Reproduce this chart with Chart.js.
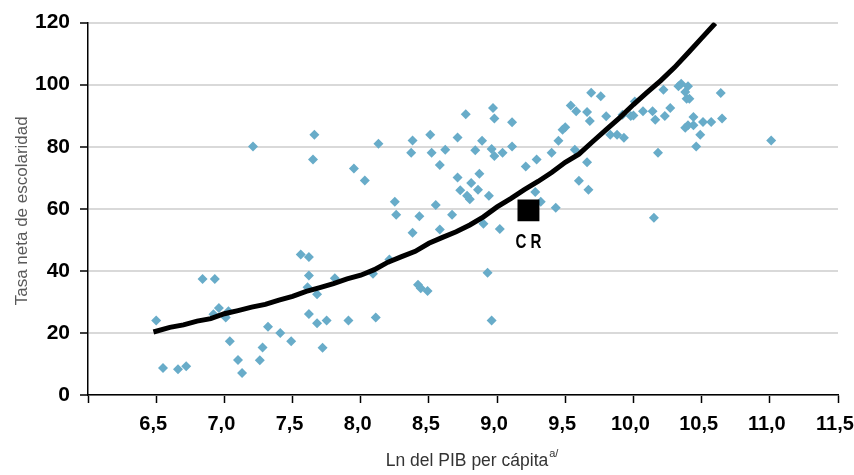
<!DOCTYPE html>
<html>
<head>
<meta charset="utf-8">
<script src="https://cdn.jsdelivr.net/npm/chart.js@4"></script>
<style>
  html, body { margin: 0; padding: 0; background: #fff; }
  #wrap { width: 854px; height: 475px; }
</style>
</head>
<body>
<div id="wrap"><canvas id="pibChart" width="854" height="475"></canvas></div>
<script>
// Ln del PIB per cápita vs tasa neta de escolaridad
const gdpLn = [
  6.50, 6.55, 6.66, 6.72, 6.84, 6.93, 6.96, 6.92, 7.03, 7.01,
  7.04, 7.10, 7.13, 7.32, 7.41, 7.28, 7.26, 7.49, 7.56, 7.62,
  7.62, 7.61, 7.68, 7.62, 7.68, 7.75, 7.72, 7.81, 7.91, 7.21,
  7.66, 7.65, 8.13, 8.38, 8.37, 7.95, 8.03, 8.25, 8.26, 8.43,
  8.38, 8.09, 8.21, 8.42, 8.44, 8.49, 8.11, 8.51, 8.52, 8.58,
  8.62, 8.77, 8.71, 8.89, 8.84, 8.97, 8.98, 9.11, 8.96, 8.98,
  9.04, 9.11, 8.71, 8.87, 8.81, 8.73, 8.86, 8.78, 8.80, 8.94,
  8.55, 8.67, 8.58, 8.90, 9.02, 9.21, 9.29, 9.28, 9.32, 9.43,
  9.40, 9.45, 9.48, 9.50, 9.54, 9.58, 9.66, 9.68, 9.57, 9.66,
  9.60, 9.67, 9.69, 9.76, 8.93, 8.96, 10.15, 9.80, 9.83, 9.88,
  9.93, 9.92, 9.98, 10.00, 10.01, 10.07, 10.14, 10.16, 10.23, 10.27,
  10.22, 10.18, 10.33, 10.35, 10.40, 10.38, 10.39, 10.41, 10.44, 10.38,
  10.40, 10.44, 10.49, 10.46, 10.51, 10.57, 10.65, 10.64, 11.01
];
const netRate = [
  24.0, 8.7, 8.3, 9.3, 37.4, 37.4, 28.0, 26.0, 27.0, 25.0,
  17.3, 11.3, 7.1, 22.0, 20.0, 15.3, 11.2, 17.3, 45.3, 44.5,
  38.5, 34.7, 32.5, 26.1, 23.1, 24.0, 15.2, 37.6, 24.0, 80.1,
  83.9, 75.9, 81.0, 82.0, 78.1, 73.0, 69.1, 62.3, 58.1, 57.6,
  52.3, 39.1, 43.7, 35.5, 34.4, 33.5, 25.0, 83.9, 78.1, 74.1,
  79.0, 90.5, 83.0, 81.9, 78.9, 92.5, 89.1, 87.9, 79.3, 77.0,
  78.1, 80.1, 70.1, 71.3, 68.3, 66.0, 66.1, 64.2, 63.1, 64.2,
  61.2, 58.1, 53.3, 55.2, 53.5, 73.6, 75.9, 65.4, 62.3, 60.3,
  78.1, 81.9, 85.5, 86.3, 93.3, 91.4, 91.2, 88.3, 79.0, 75.0,
  69.0, 66.1, 97.4, 96.3, 39.4, 24.0, 57.1, 89.8, 83.9, 83.9,
  82.9, 90.3, 89.9, 90.1, 94.6, 91.4, 91.4, 88.7, 89.9, 92.5,
  98.4, 78.1, 99.5, 100.3, 99.5, 97.6, 95.5, 95.5, 89.6, 86.1,
  86.9, 86.9, 83.9, 80.1, 88.0, 88.0, 89.1, 97.3, 82.0
];

// curva ajustada
const fitX = [
  6.48, 6.6, 6.7, 6.8, 6.9, 7.0, 7.1, 7.2, 7.3, 7.4,
  7.5, 7.6, 7.7, 7.8, 7.9, 8.0, 8.1, 8.2, 8.3, 8.4,
  8.5, 8.6, 8.7, 8.8, 8.9, 9.0, 9.1, 9.2, 9.3, 9.4,
  9.5, 9.6, 9.7, 9.8, 9.9, 10.0, 10.1, 10.2, 10.3, 10.4,
  10.5, 10.6
];
const fitY = [
  20.3, 21.8, 22.6, 23.8, 24.6, 26.2, 27.2, 28.3, 29.2, 30.6,
  31.8, 33.4, 34.6, 35.9, 37.4, 38.6, 40.4, 42.8, 44.6, 46.3,
  48.9, 50.8, 52.6, 54.8, 57.4, 60.6, 63.3, 66.2, 68.8, 71.7,
  75.0, 77.6, 81.6, 85.5, 89.4, 93.6, 97.5, 101.3, 105.5, 110.2,
  115.0, 119.8
];

// Costa Rica
const crX = [9.23];
const crY = [59.5];
const crLabel = "C R";

const xTicks = [6.0, 6.5, 7.0, 7.5, 8.0, 8.5, 9.0, 9.5, 10.0, 10.5, 11.0, 11.5];
const yTicks = [0, 20, 40, 60, 80, 100, 120];

const yTitle = "Tasa neta de escolaridad";
const xTitle = "Ln del PIB per cápita";
const xTitleSup = "a/";

const sans = '"Liberation Sans", Arial, sans-serif';

const textPlugin = {
  id: "axisText",
  afterDraw(chart) {
    const { ctx, scales } = chart;
    const x = scales.x, y = scales.y;

    ctx.save();
    ctx.fillStyle = "#595959";
    ctx.font = "17px " + sans;
    ctx.translate(22, (y.top + y.bottom) / 2 + 2);
    ctx.rotate(-Math.PI / 2);
    ctx.textAlign = "center";
    ctx.textBaseline = "middle";
    ctx.fillText(yTitle, 0, 0);
    ctx.restore();

    ctx.save();
    ctx.fillStyle = "#333";
    ctx.textBaseline = "alphabetic";
    ctx.textAlign = "left";
    ctx.font = "17.5px " + sans;
    const w1 = ctx.measureText(xTitle).width;
    const startX = (x.left + x.right) / 2 - w1 / 2 + 4;
    ctx.fillText(xTitle, startX, 466);
    ctx.font = "11px " + sans;
    ctx.fillText(xTitleSup, startX + w1 + 1, 457);
    ctx.restore();

    ctx.save();
    ctx.fillStyle = "#000";
    ctx.font = "bold 21px " + sans;
    ctx.textAlign = "center";
    ctx.textBaseline = "middle";
    ctx.translate(x.getPixelForValue(crX[0]), y.getPixelForValue(crY[0]) + 32);
    ctx.scale(0.72, 1);
    ctx.fillText(crLabel, 0, 0);
    ctx.restore();
  }
};

const scatterPoints = gdpLn.map((v, i) => ({ x: v, y: netRate[i] }));
const fitPoints = fitX.map((v, i) => ({ x: v, y: fitY[i] }));
const crPoints = crX.map((v, i) => ({ x: v, y: crY[i] }));

new Chart(document.getElementById("pibChart"), {
  type: "scatter",
  data: {
    datasets: [
      {
        label: "CR",
        data: crPoints,
        pointStyle: "rect",
        pointRadius: 15.5,
        backgroundColor: "#000",
        borderWidth: 0,
      },
      {
        label: "Ajuste",
        data: fitPoints,
        showLine: true,
        borderColor: "#000",
        borderWidth: 5,
        tension: 0,
        pointRadius: 0,
      },
      {
        label: "Países",
        data: scatterPoints,
        pointStyle: "rectRot",
        pointRadius: 5,
        backgroundColor: "#68acc9",
        borderWidth: 0,
      },
    ],
  },
  options: {
    responsive: false,
    animation: false,
    events: [],
    layout: { padding: { top: 20, right: 16, left: 0, bottom: 0 } },
    plugins: { legend: { display: false }, tooltip: { enabled: false } },
    scales: {
      x: {
        type: "linear",
        min: 6,
        max: 11.5,
        afterBuildTicks: (s) => { s.ticks = xTicks.map((v) => ({ value: v })); },
        afterFit: (s) => { s.height = 80; s.paddingLeft = 0; s.paddingRight = 0; },
        grid: { drawOnChartArea: false, drawTicks: true, tickLength: 8, tickColor: "#000", tickWidth: 1.5 },
        border: { color: "#000", width: 1.5 },
        ticks: {
          padding: 9,
          labelOffset: -3,
          maxRotation: 0,
          color: "#000",
          font: { family: sans, size: 20, weight: "bold" },
          callback: (v) => (v === 6 ? "" : v.toFixed(1).replace(".", ",")),
        },
      },
      y: {
        min: 0,
        max: 120,
        afterBuildTicks: (s) => { s.ticks = yTicks.map((v) => ({ value: v })); },
        afterFit: (s) => { s.width = 88; },
        grid: { color: "#d9d9d9", lineWidth: 2, drawTicks: true, tickLength: 8, tickColor: "#000", tickWidth: 1.5 },
        border: { color: "#000", width: 1.5 },
        ticks: {
          padding: 10,
          color: "#000",
          font: { family: sans, size: 21, weight: "bold" },
        },
      },
    },
  },
  plugins: [textPlugin],
});
</script>
</body>
</html>
